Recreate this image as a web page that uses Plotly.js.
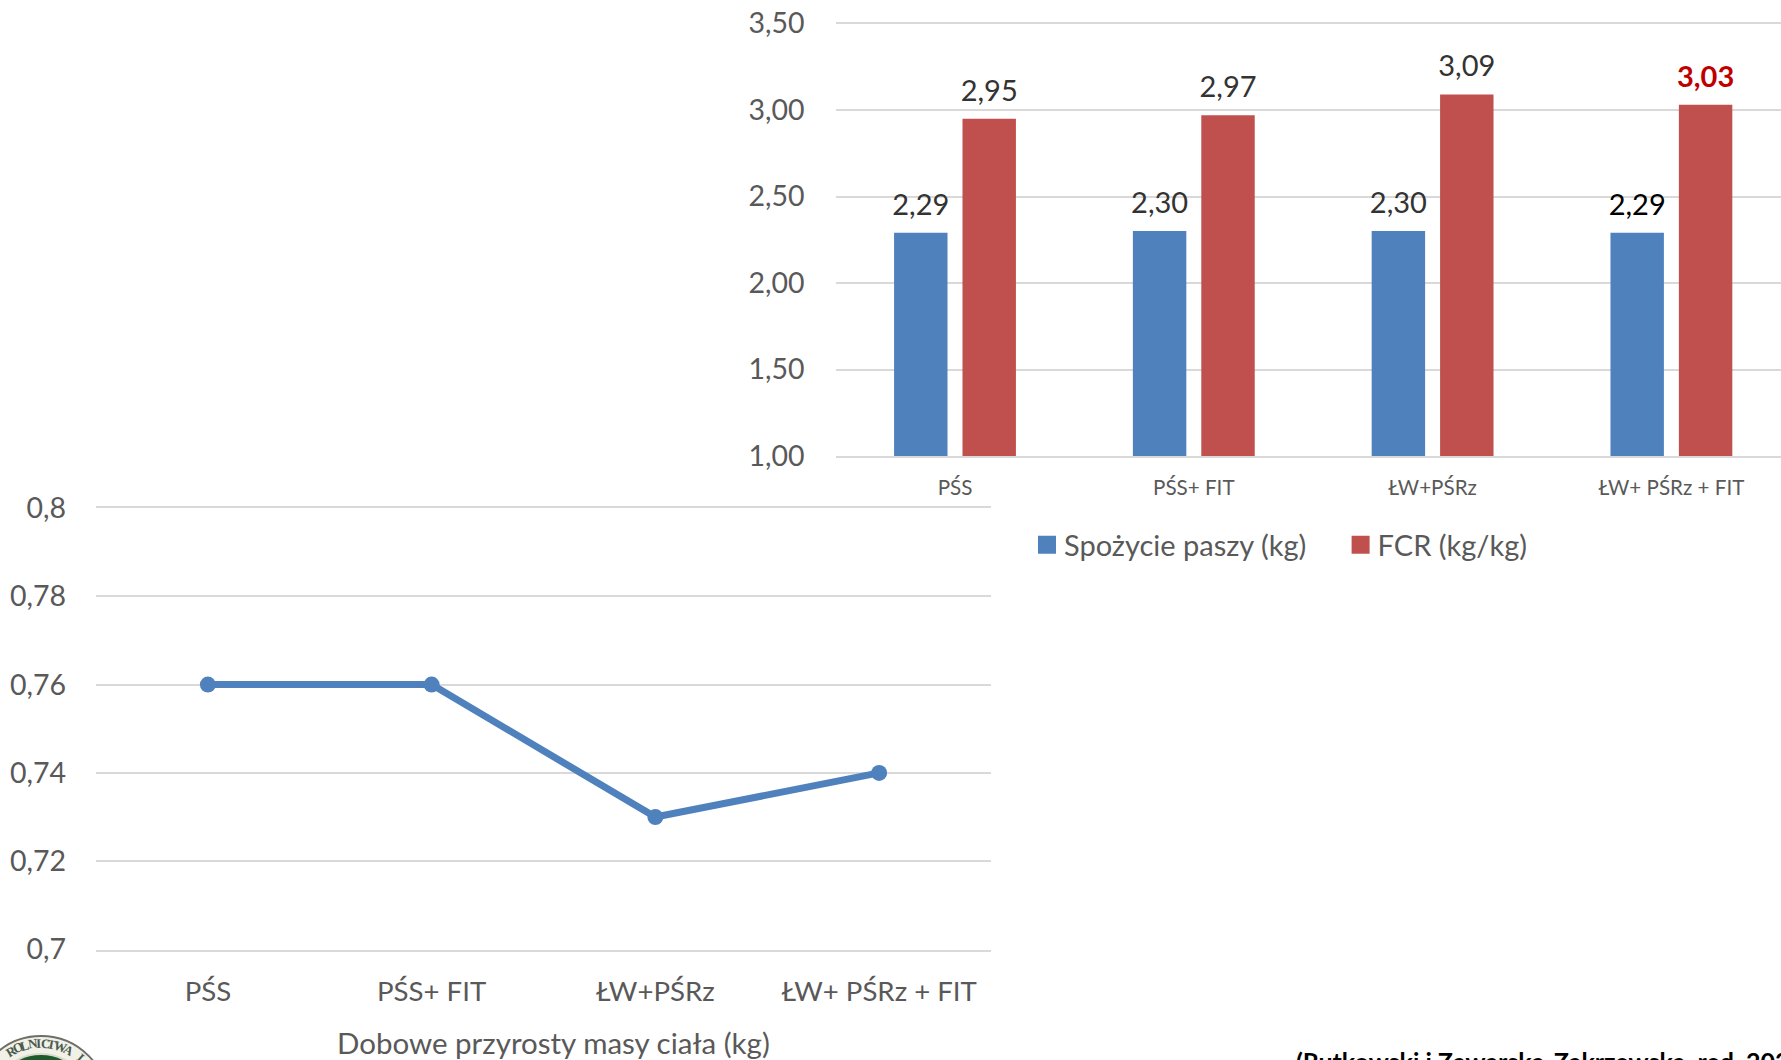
<!DOCTYPE html>
<html>
<head>
<meta charset="utf-8">
<script src="https://cdn.plot.ly/plotly-3.0.1.min.js"></script>
<style>html,body{margin:0;padding:0;background:#fff;overflow:hidden}#chart{width:1781px;height:1060px}</style>
</head>
<body>
<div id="chart"></div>
<script>
// Feed intake and FCR per feeding group
const barGroups = ['PŚS', 'PŚS+ FIT', 'ŁW+PŚRz', 'ŁW+ PŚRz + FIT'];
const feedIntake = [2.29, 2.30, 2.30, 2.29];
const fcr = [2.95, 2.97, 3.09, 3.03];
const feedLabelColors = ['#333333', '#333333', '#333333', '#000000'];
const fcrLabelColors = ['#333333', '#333333', '#333333', '#C00000'];

// Daily body-mass gain per feeding group
const gainGroups = ['PŚS', 'PŚS+ FIT', 'ŁW+PŚRz', 'ŁW+ PŚRz + FIT'];
const dailyGain = [0.76, 0.76, 0.73, 0.74];

// Lettering on the arc of the institution seal, with its angle from the top
const sealLetters = ['R', 'O', 'L', 'N', 'I', 'C', 'T', 'W', 'A', 'I'];
const sealAngles = [-30, -23, -15.5, -8, -2, 4, 10.5, 18.5, 28, 41];

const FONT = 'Lato, "Open Sans", sans-serif';
const W = 1781, H = 1060;
const fx = p => p / W;
const fy = p => 1 - p / H;

const traces = [
  { type: 'bar', name: 'Spożycie paszy (kg)', x: barGroups, y: feedIntake,
    marker: { color: '#4F81BD' }, xaxis: 'x', yaxis: 'y', hoverinfo: 'x+y',
    texttemplate: '%{y:.2f}', textposition: 'outside', cliponaxis: false, constraintext: 'none',
    textfont: { family: FONT, size: 29, color: feedLabelColors } },
  { type: 'bar', name: 'FCR (kg/kg)', x: barGroups, y: fcr,
    marker: { color: '#C0504D' }, xaxis: 'x', yaxis: 'y', hoverinfo: 'x+y',
    texttemplate: ['%{y:.2f}', '%{y:.2f}', '%{y:.2f}', '<b>%{y:.2f}</b>'],
    textposition: 'outside', cliponaxis: false, constraintext: 'none',
    textfont: { family: FONT, size: 29, color: fcrLabelColors } },
  { type: 'scatter', mode: 'lines+markers', x: gainGroups, y: dailyGain,
    xaxis: 'x2', yaxis: 'y2', showlegend: false,
    line: { color: '#4F81BD', width: 7 }, marker: { color: '#4F81BD', size: 16 } }
];

const gridStyle = { showgrid: true, gridcolor: '#D9D9D9', gridwidth: 2, zeroline: false,
  showline: false, ticks: '', tickfont: { family: FONT, size: 28.5, color: '#595959' } };
const categoryStyle = { type: 'category', showgrid: false, zeroline: false, ticks: '',
  showline: true, mirror: true, linecolor: '#D9D9D9', linewidth: 2 };

// Seal in the lower left corner, cut by the page edge
const sealX = 41, sealY = 1103;
const circle = (r, fill, stroke) => ({ type: 'circle', xref: 'paper', yref: 'paper', layer: 'below',
  x0: fx(sealX - r), x1: fx(sealX + r), y0: fy(sealY + r), y1: fy(sealY - r),
  fillcolor: fill, line: { color: stroke, width: 2 } });

const sealAnnotations = sealLetters.map((ch, i) => {
  const a = sealAngles[i] * Math.PI / 180;
  return { xref: 'paper', yref: 'paper', showarrow: false, text: '<b>' + ch + '</b>',
    x: fx(sealX + 60 * Math.sin(a)), y: fy(sealY - 60 * Math.cos(a)),
    xanchor: 'center', yanchor: 'middle', textangle: sealAngles[i],
    font: { family: '"Liberation Serif", serif', size: 13, color: '#4A5A4E' } };
});

const layout = {
  width: W, height: H, margin: { l: 0, r: 0, t: 0, b: 0, pad: 0 },
  paper_bgcolor: '#fff', plot_bgcolor: 'rgba(0,0,0,0)', separators: ', ',
  barmode: 'group', bargap: 0.427, bargroupgap: 0.219,
  showlegend: true,
  legend: { orientation: 'h', x: fx(1024), y: fy(545), xanchor: 'left', yanchor: 'middle',
    font: { family: FONT, size: 29, color: '#595959' }, itemwidth: 30, bgcolor: 'rgba(0,0,0,0)',
    entrywidth: 268.6, entrywidthmode: 'pixels', traceorder: 'normal' },
  xaxis: Object.assign({}, categoryStyle, { domain: [fx(835.6), 1], anchor: 'y', range: [-0.5, 3.459],
    ticklabelstandoff: 12, tickfont: { family: FONT, size: 20.6, color: '#595959' } }),
  yaxis: Object.assign({}, gridStyle, { domain: [fy(456), fy(23.5)], anchor: 'x', range: [1, 3.5],
    dtick: 0.5, tick0: 1, tickformat: '.2f', ticklabelstandoff: 30 }),
  xaxis2: Object.assign({}, categoryStyle, { domain: [fx(96), fx(991)], anchor: 'y2', range: [-0.5, 3.5],
    ticklabelstandoff: 16, tickfont: { family: FONT, size: 27.6, color: '#595959' } }),
  yaxis2: Object.assign({}, gridStyle, { domain: [fy(949.5), fy(508)], anchor: 'x2', range: [0.7, 0.8],
    dtick: 0.02, tick0: 0.7, tickformat: '.2~f', ticklabelstandoff: 29 }),
  shapes: [circle(67, '#F1F1E8', '#6E6E6A'), circle(49, '#1F5A2C', '#D8DCCF')],
  annotations: [
    { xref: 'paper', yref: 'paper', x: fx(553), y: fy(1042), xanchor: 'center', yanchor: 'middle',
      showarrow: false, text: 'Dobowe przyrosty masy ciała (kg)',
      font: { family: FONT, size: 29.5, color: '#595959' } },
    { xref: 'paper', yref: 'paper', x: fx(1294), y: fy(1044), xanchor: 'left', yanchor: 'top',
      showarrow: false, text: '<b>(Rutkowski i Zawarska-Zakrzewska, red. 2023)</b>',
      font: { family: FONT, size: 25, color: '#000000' } }
  ].concat(sealAnnotations)
};

Plotly.newPlot('chart', traces, layout, { displayModeBar: false, responsive: false }).then(() => {
  // Raise the value labels above the bars and enlarge the legend swatches
  document.querySelectorAll('.bars .bartext').forEach(t => {
    t.setAttribute('transform', 'translate(0,-9) ' + (t.getAttribute('transform') || ''));
  });
  document.querySelectorAll('.legend .legendpoints path').forEach(p => {
    p.setAttribute('d', 'M9,9H-9V-9H9Z');
    p.setAttribute('transform', 'translate(23,0)');
  });
});
</script>
</body>
</html>
